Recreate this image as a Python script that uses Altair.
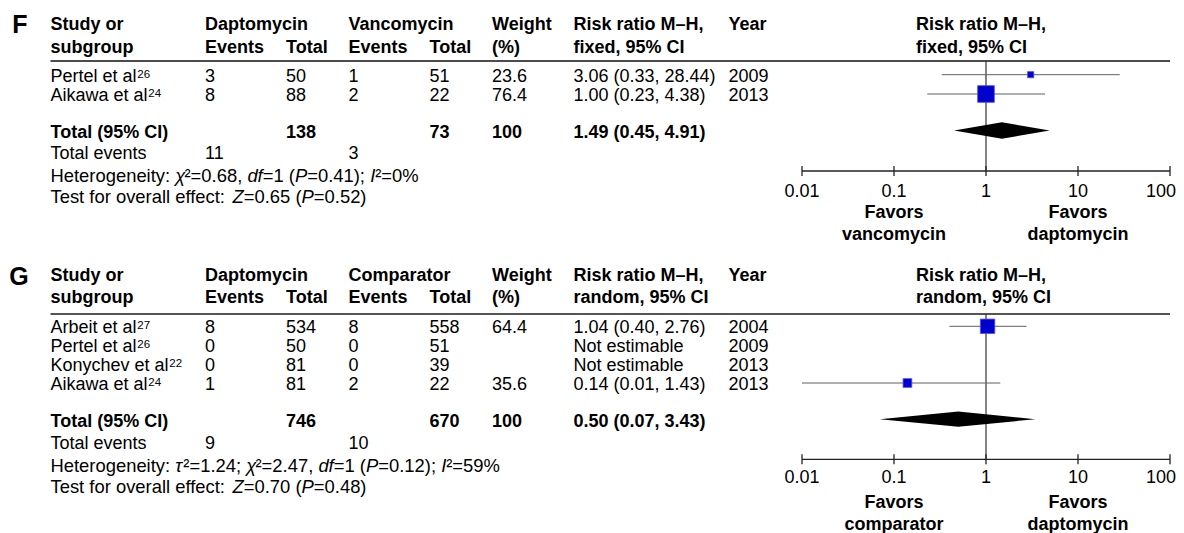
import altair as alt
import pandas as pd

# ------------------------------------------------------------------ data
# Panel F : daptomycin vs vancomycin (fixed effect)
F_study = ["Pertel et al", "Aikawa et al"]
F_ref = ["26", "24"]
F_dap_events = [3, 8]
F_dap_total = [50, 88]
F_cmp_events = [1, 2]
F_cmp_total = [51, 22]
F_weight = [23.6, 76.4]
F_rr = [3.06, 1.00]
F_lo = [0.33, 0.23]
F_hi = [28.44, 4.38]
F_year = [2009, 2013]
F_tot = [138, 73, 100]            # dap total, cmp total, weight
F_tot_rr = [1.49, 0.45, 4.91]     # pooled rr, lo, hi
F_tot_events = [11, 3]
F_labels = ["Vancomycin", "fixed, 95% CI", "vancomycin"]

# Panel G : daptomycin vs comparator (random effects)
G_study = ["Arbeit et al", "Pertel et al", "Konychev et al", "Aikawa et al"]
G_ref = ["27", "26", "22", "24"]
G_dap_events = [8, 0, 0, 1]
G_dap_total = [534, 50, 81, 81]
G_cmp_events = [8, 0, 0, 2]
G_cmp_total = [558, 51, 39, 22]
G_weight = [64.4, None, None, 35.6]
G_rr = [1.04, None, None, 0.14]
G_lo = [0.40, None, None, 0.01]
G_hi = [2.76, None, None, 1.43]
G_year = [2004, 2009, 2013, 2013]
G_tot = [746, 670, 100]
G_tot_rr = [0.50, 0.07, 3.43]
G_tot_events = [9, 10]
G_labels = ["Comparator", "random, 95% CI", "comparator"]

F_het = [("Heterogeneity: ", "n"), ("\u03c7", "i"), ("\u00b2", "n"), ("=0.68, ", "n"),
         ("df", "i"), ("=1 (", "n"), ("P", "i"), ("=0.41); ", "n"), ("I", "i"),
         ("\u00b2", "n"), ("=0%", "n")]
F_test = [("Test for overall effect: ", "n"), ("Z", "i"), ("=0.65 (", "n"), ("P", "i"), ("=0.52)", "n")]
G_het = [("Heterogeneity: ", "n"), ("\u03c4", "i"), ("\u00b2", "n"), ("=1.24; ", "n"),
         ("\u03c7", "i"), ("\u00b2", "n"), ("=2.47, ", "n"), ("df", "i"), ("=1 (", "n"),
         ("P", "i"), ("=0.12); ", "n"), ("I", "i"), ("\u00b2", "n"), ("=59%", "n")]
G_test = [("Test for overall effect: ", "n"), ("Z", "i"), ("=0.70 (", "n"), ("P", "i"), ("=0.48)", "n")]

TICKS = [0.01, 0.1, 1, 10, 100]
TICK_LABELS = ["0.01", "0.1", "1", "10", "100"]

# ------------------------------------------------------------------ layout (page pixels)
FONT = "Liberation Sans"
FS = 18          # table text
FS_NOTE = 18.4   # heterogeneity / overall-effect lines
COLX = dict(name=50.5, dap_ev=205, dap_tot=286, cmp_ev=348.5, cmp_tot=429.5,
            weight=492, rr=573.5, year=728.5, fhdr=916)
LAY = {
    "F": dict(letter=(20, 33.3), h1=30, h2=52.7, line=61, rows=[81.7, 101], total=138,
              events=159.3, het=181.7, test=203.3, axis=171, tick=196.7, fav1=218.3, fav2=240,
              dhalf=8.3, linecol="#111111", linew=1.5),
    "G": dict(letter=(19, 285), h1=280.7, h2=303.3, line=314, rows=[333.3, 352, 371, 390],
              total=426.7, events=449.3, het=471.7, test=493.3, axis=459.3, tick=482.7,
              fav1=508.3, fav2=530, dhalf=7.6, linecol="#555555", linew=2),
}
CENTER_OFF = 7  # row centre above text baseline

# Arial / Liberation Sans advance widths (per 1000 em)
AW = dict(zip("abcdefghijklmnopqrstuvwxyz",
              [556, 556, 500, 556, 556, 278, 556, 556, 222, 222, 500, 222, 833, 556, 556, 556,
               556, 333, 500, 278, 556, 500, 722, 500, 500, 500]))
AW.update(dict(zip("ABCDEFGHIJKLMNOPQRSTUVWXYZ",
                   [667, 667, 722, 722, 667, 611, 778, 722, 278, 500, 667, 556, 833, 722, 778,
                    667, 778, 722, 667, 611, 722, 667, 944, 667, 667, 611])))
AW.update({d: 556 for d in "0123456789"})
AW.update({" ": 278, ".": 278, ",": 278, ":": 278, ";": 278, "=": 584, "(": 333, ")": 333,
           "%": 889, "\u00b2": 333, "\u03c7": 500, "\u03c4": 440, "-": 333})


def tw(s, size=FS):
    return sum(AW.get(c, 556) for c in s) * size / 1000.0


def fmt_rr(r, lo, hi):
    if r is None:
        return "Not estimable"
    return f"{r:.2f} ({lo:.2f}, {hi:.2f})"


px_text = []   # x,y,text,kind
fo_text = []   # v (log x), y, text, kind
rules_px = []
vlines, axes, ticks, cis, squares, diamonds = [], [], [], [], [], []


def add(kind, x, y, text):
    px_text.append(dict(x=x, y=y, text=str(text), kind=kind))


def panel(key, letter, study, ref, de, dt, ce, ct, w, rr, lo, hi, yr, tot, totrr, totev, labels, het, test):
    L = LAY[key]
    add("letter", L["letter"][0], L["letter"][1], letter)
    # headers
    for col, t in [("name", "Study or"), ("dap_ev", "Daptomycin"), ("cmp_ev", labels[0]),
                   ("weight", "Weight"), ("rr", "Risk ratio M\u2013H,"), ("year", "Year"),
                   ("fhdr", "Risk ratio M\u2013H,")]:
        add("bold", COLX[col], L["h1"], t)
    for col, t in [("name", "subgroup"), ("dap_ev", "Events"), ("dap_tot", "Total"),
                   ("cmp_ev", "Events"), ("cmp_tot", "Total"), ("weight", "(%)"),
                   ("rr", labels[1]), ("fhdr", labels[1])]:
        add("bold", COLX[col], L["h2"], t)
    rules_px.append(dict(x=50.5, x2=1170, y=L["line"], panel=key))
    # study rows
    for i, yb in enumerate(L["rows"]):
        add("normal", COLX["name"], yb, study[i])
        add("sup", COLX["name"] + tw(study[i]) + 0.8, yb - 4.2, ref[i])
        add("normal", COLX["dap_ev"], yb, de[i])
        add("normal", COLX["dap_tot"], yb, dt[i])
        add("normal", COLX["cmp_ev"], yb, ce[i])
        add("normal", COLX["cmp_tot"], yb, ct[i])
        if w[i] is not None:
            add("normal", COLX["weight"], yb, f"{w[i]:.1f}")
        add("normal", COLX["rr"], yb, fmt_rr(rr[i], lo[i], hi[i]))
        add("normal", COLX["year"], yb, yr[i])
        if rr[i] is not None:
            cis.append(dict(lo=lo[i], hi=hi[i], y=yb - CENTER_OFF))
            squares.append(dict(rr=rr[i], y=yb - CENTER_OFF, weight=w[i]))
    # total row
    add("bold", COLX["name"], L["total"], "Total (95% CI)")
    add("bold", COLX["dap_tot"], L["total"], tot[0])
    add("bold", COLX["cmp_tot"], L["total"], tot[1])
    add("bold", COLX["weight"], L["total"], tot[2])
    add("bold", COLX["rr"], L["total"], fmt_rr(*totrr))
    yc = L["total"] - CENTER_OFF - 0.5
    for v, dy in [(totrr[1], 0), (totrr[0], L["dhalf"]), (totrr[2], 0)]:
        diamonds.append(dict(v=v, y=yc - dy, y2=yc + dy, panel=key))
    add("normal", COLX["name"], L["events"], "Total events")
    add("normal", COLX["dap_ev"], L["events"], totev[0])
    add("normal", COLX["cmp_ev"], L["events"], totev[1])
    for segs, yb in [(het, L["het"]), (test, L["test"])]:
        x = COLX["name"]
        for s, k in segs:
            add("note_i" if k == "i" else "note", x, yb, s)
            x += tw(s, FS_NOTE)
    # forest axis
    vlines.append(dict(v=1, y=L["line"], y2=L["axis"]))
    axes.append(dict(v=TICKS[0], v2=TICKS[-1], y=L["axis"]))
    for t, lab in zip(TICKS, TICK_LABELS):
        ticks.append(dict(v=t, y=L["axis"] - 5, y2=L["axis"] + 5))
        fo_text.append(dict(v=t, y=L["tick"], text=lab, kind="tick_end" if t == TICKS[-1] else "tick"))
    for v, a, b in [(0.1, "Favors", labels[2]), (10, "Favors", "daptomycin")]:
        fo_text.append(dict(v=v, y=L["fav1"], text=a, kind="fav"))
        fo_text.append(dict(v=v, y=L["fav2"], text=b, kind="fav"))


panel("F", "F", F_study, F_ref, F_dap_events, F_dap_total, F_cmp_events, F_cmp_total, F_weight,
      F_rr, F_lo, F_hi, F_year, F_tot, F_tot_rr, F_tot_events, F_labels, F_het, F_test)
panel("G", "G", G_study, G_ref, G_dap_events, G_dap_total, G_cmp_events, G_cmp_total, G_weight,
      G_rr, G_lo, G_hi, G_year, G_tot, G_tot_rr, G_tot_events, G_labels, G_het, G_test)

# ------------------------------------------------------------------ scales
W, H = 1168, 525
xpx = alt.Scale(domain=[8, 8 + W], range=[0, W], nice=False, zero=False)
xlog = alt.Scale(type="log", domain=[0.01, 100], range=[802 - 8, 1170 - 8], nice=False)
ypx = alt.Scale(domain=[8, 8 + H], range=[0, H], nice=False, zero=False)

ptext = pd.DataFrame(px_text)
ftext = pd.DataFrame(fo_text)


def text_layer(kind, **mk):
    d = ptext[ptext.kind == kind]
    return alt.Chart(d).mark_text(font=FONT, baseline="alphabetic", color="#000000", **mk).encode(
        x=alt.X("x:Q", scale=xpx, axis=None), y=alt.Y("y:Q", scale=ypx, axis=None), text="text:N")


def ftext_layer(kind, **mk):
    d = ftext[ftext.kind == kind]
    mk.setdefault("align", "center")
    return alt.Chart(d).mark_text(font=FONT, baseline="alphabetic", color="#000000", **mk).encode(
        x=alt.X("v:Q", scale=xlog, axis=None), y=alt.Y("y:Q", scale=ypx, axis=None), text="text:N")


layers = [
    text_layer("normal", align="left", fontSize=FS),
    text_layer("bold", align="left", fontSize=FS, fontWeight="bold"),
    text_layer("note", align="left", fontSize=FS_NOTE),
    text_layer("note_i", align="left", fontSize=FS_NOTE, fontStyle="italic"),
    text_layer("sup", align="left", fontSize=11.5),
    text_layer("letter", align="center", fontSize=25, fontWeight="bold"),
]
rp = pd.DataFrame(rules_px)
for key in ["F", "G"]:
    layers.append(alt.Chart(rp[rp.panel == key]).mark_rule(
        color=LAY[key]["linecol"], strokeWidth=LAY[key]["linew"]).encode(
        x=alt.X("x:Q", scale=xpx, axis=None), x2="x2:Q", y=alt.Y("y:Q", scale=ypx, axis=None)))

layers += [
    alt.Chart(pd.DataFrame(vlines)).mark_rule(color="#333333", strokeWidth=1.2).encode(
        x=alt.X("v:Q", scale=xlog, axis=None), y=alt.Y("y:Q", scale=ypx, axis=None), y2="y2:Q"),
    alt.Chart(pd.DataFrame(axes)).mark_rule(color="#222222", strokeWidth=1.3).encode(
        x=alt.X("v:Q", scale=xlog, axis=None), x2="v2:Q", y=alt.Y("y:Q", scale=ypx, axis=None)),
    alt.Chart(pd.DataFrame(ticks)).mark_rule(color="#222222", strokeWidth=1.3).encode(
        x=alt.X("v:Q", scale=xlog, axis=None), y=alt.Y("y:Q", scale=ypx, axis=None), y2="y2:Q"),
    alt.Chart(pd.DataFrame(cis)).mark_rule(color="#606060", strokeWidth=1).encode(
        x=alt.X("lo:Q", scale=xlog, axis=None), x2="hi:Q", y=alt.Y("y:Q", scale=ypx, axis=None)),
    alt.Chart(pd.DataFrame(squares)).mark_square(filled=True, color="#0000cc", stroke="#4d4dff",
                                                 strokeWidth=0.8, opacity=1).encode(
        x=alt.X("rr:Q", scale=xlog, axis=None), y=alt.Y("y:Q", scale=ypx, axis=None),
        size=alt.Size("weight:Q", scale=alt.Scale(type="pow", exponent=1.7, domain=[0, 100], range=[0, 440]),
                      legend=None)),
    alt.Chart(pd.DataFrame(diamonds)).mark_area(color="#000000", orient="vertical", opacity=1).encode(
        x=alt.X("v:Q", scale=xlog, axis=None), y=alt.Y("y:Q", scale=ypx, axis=None), y2="y2:Q",
        detail="panel:N"),
    ftext_layer("tick", fontSize=FS),
    ftext_layer("tick_end", fontSize=FS, align="right", dx=6),
    ftext_layer("fav", fontSize=FS, fontWeight="bold"),
]

chart = alt.layer(*layers).resolve_scale(x="independent").properties(
    width=W, height=H, padding=0, autosize=alt.AutoSizeParams(type="none"), background="white"
).configure_view(stroke=None)

chart.save("out.html", embed_options={"renderer": "svg", "actions": False})
